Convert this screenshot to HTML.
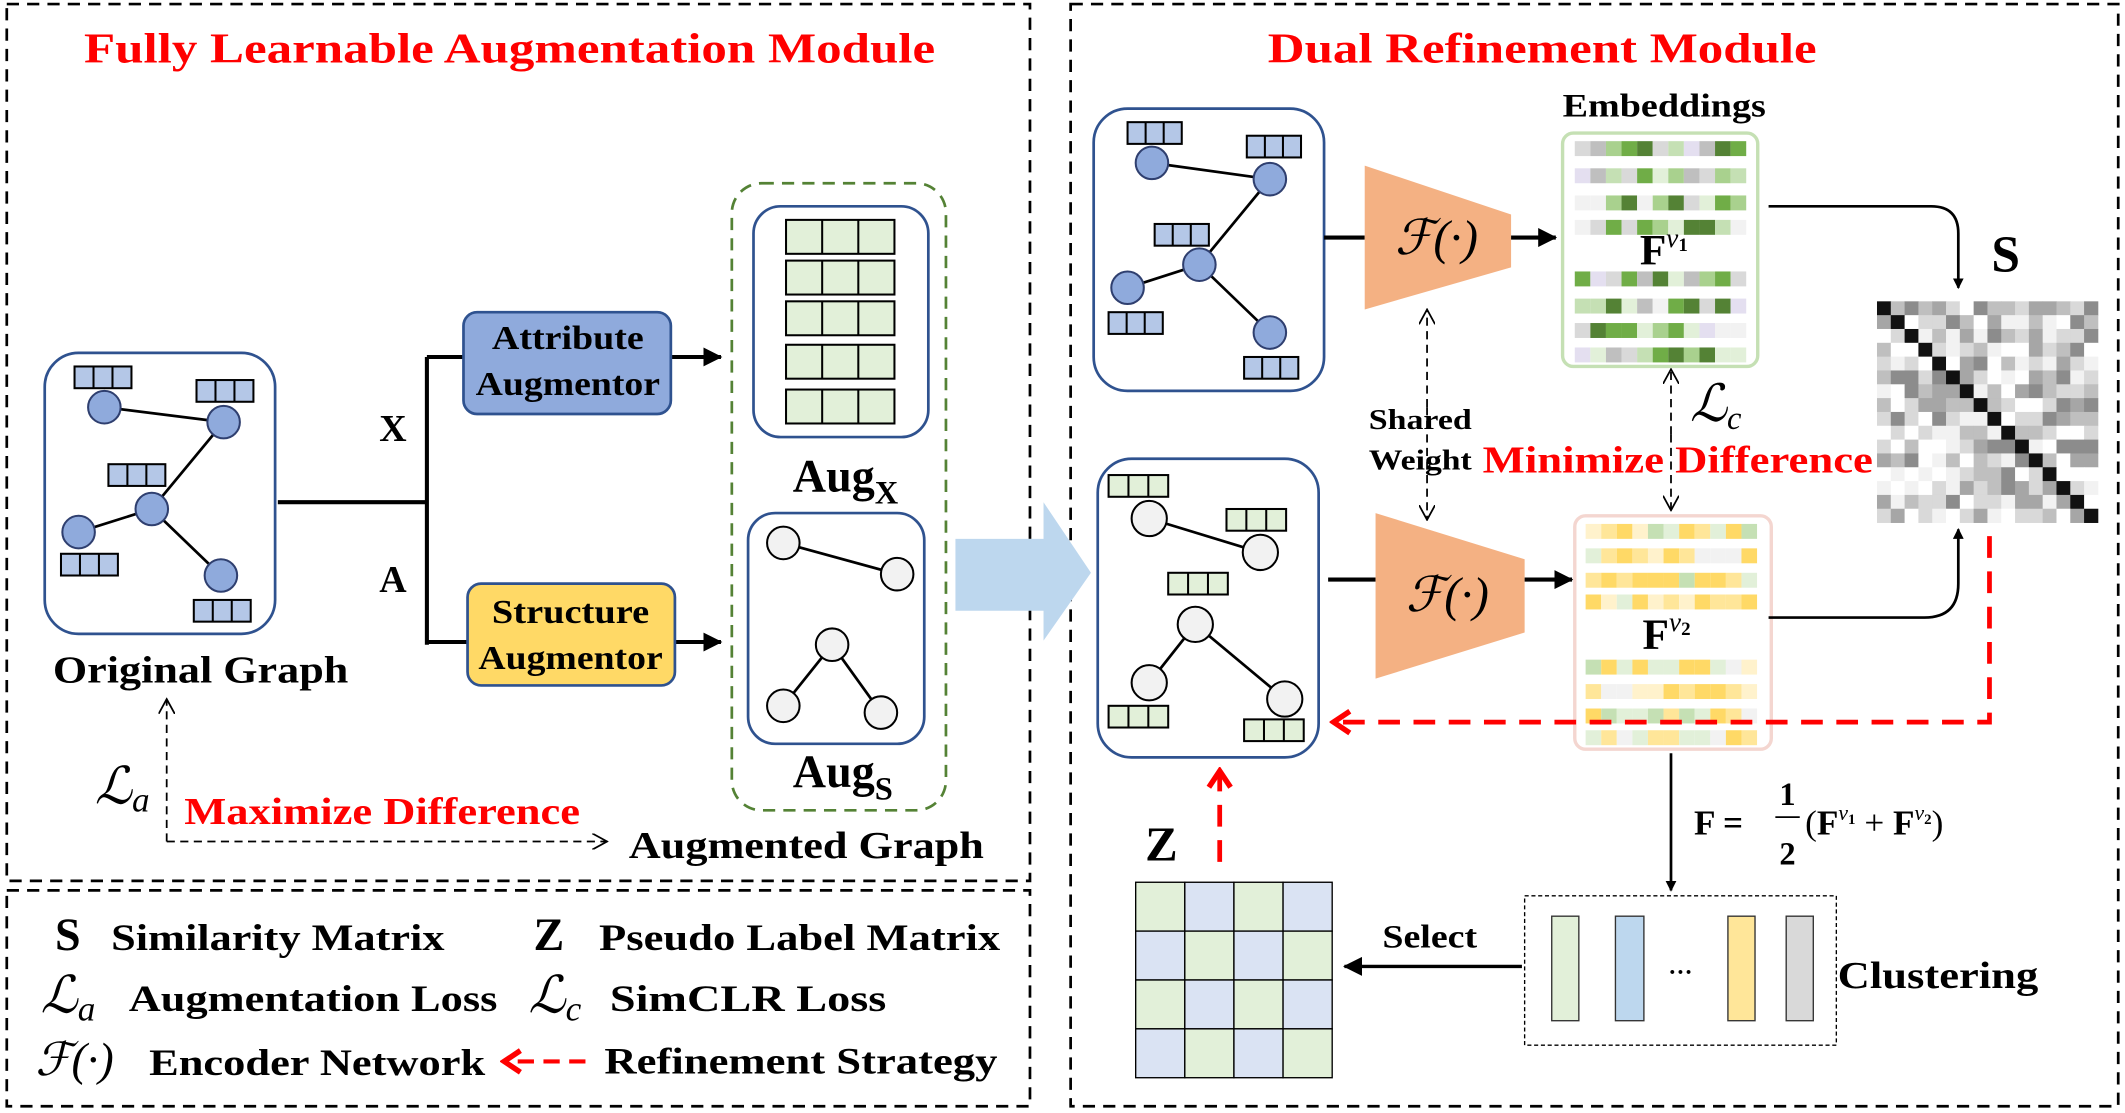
<!DOCTYPE html>
<html><head><meta charset="utf-8"><style>
html,body{margin:0;padding:0;background:#fff;}
svg{display:block;}
text{font-family:"Liberation Serif",serif;font-weight:bold;}
.it{font-style:italic;font-weight:normal;}
</style></head><body>
<svg id="s" width="2125" height="1113" viewBox="0 0 1568 820" preserveAspectRatio="none" xmlns="http://www.w3.org/2000/svg">
<defs>
<marker id="ah" markerWidth="8" markerHeight="8" refX="7" refY="4" orient="auto" markerUnits="userSpaceOnUse"><path d="M0,0 L8,4 L0,8 z" fill="#000"/></marker>
<marker id="ahb" markerWidth="14" markerHeight="14" refX="13" refY="7" orient="auto" markerUnits="userSpaceOnUse"><path d="M0,0 L14,7 L0,14 z" fill="#000"/></marker>
<marker id="ao" markerWidth="12" markerHeight="12" refX="11" refY="6" orient="auto" markerUnits="userSpaceOnUse"><path d="M0,0 L11,6 L0,12" fill="none" stroke="#000" stroke-width="1.3"/></marker>
<marker id="ar" markerWidth="18" markerHeight="20" refX="15" refY="10" orient="auto" markerUnits="userSpaceOnUse"><path d="M3,2 L15,10 L3,18" fill="none" stroke="#f00" stroke-width="4"/></marker>
</defs>
<g fill="none" stroke="#000" stroke-width="2" stroke-dasharray="9,6">
<rect x="5" y="3" width="755" height="646"/>
<rect x="5" y="656" width="755" height="159"/>
<rect x="790" y="3" width="773" height="812"/>
</g>
<text x="376" y="46" font-size="31" fill="#f00" text-anchor="middle" textLength="628" lengthAdjust="spacingAndGlyphs">Fully Learnable Augmentation Module</text>
<text x="1138" y="46" font-size="31" fill="#f00" text-anchor="middle" textLength="405" lengthAdjust="spacingAndGlyphs">Dual Refinement Module</text>

<rect x="33" y="260" width="170" height="207" rx="25" fill="#fff" stroke="#2f528f" stroke-width="2"/>
<g stroke="#000" stroke-width="2"><line x1="77" y1="300" x2="165" y2="311"/><line x1="165" y1="311" x2="112" y2="375"/><line x1="112" y1="375" x2="58" y2="392"/><line x1="112" y1="375" x2="163" y2="424"/></g>
<g fill="#8faadc" stroke="#2f3f6f" stroke-width="1.5"><circle cx="77" cy="300" r="12"/><circle cx="165" cy="311" r="12"/><circle cx="112" cy="375" r="12"/><circle cx="58" cy="392" r="12"/><circle cx="163" cy="424" r="12"/></g>
<g id="og"></g>
<text x="148" y="503" font-size="28" text-anchor="middle" textLength="218" lengthAdjust="spacingAndGlyphs">Original Graph</text>
<g stroke="#000" stroke-width="3" fill="none"><path d="M205,370 H315 M315,263 V475 M315,263 H342 M315,473 H345"/></g>
<line x1="495" y1="263" x2="532" y2="263" stroke="#000" stroke-width="3" marker-end="url(#ahb)"/>
<line x1="498" y1="473" x2="532" y2="473" stroke="#000" stroke-width="3" marker-end="url(#ahb)"/>
<text x="290" y="325" font-size="28" text-anchor="middle">X</text>
<text x="290" y="436" font-size="28" text-anchor="middle">A</text>
<rect x="342" y="230" width="153" height="75" rx="10" fill="#8faadc" stroke="#2f528f" stroke-width="2"/>
<text x="419" y="257" font-size="25" text-anchor="middle" textLength="112" lengthAdjust="spacingAndGlyphs">Attribute</text>
<text x="419" y="291" font-size="25" text-anchor="middle" textLength="136" lengthAdjust="spacingAndGlyphs">Augmentor</text>
<rect x="345" y="430" width="153" height="75" rx="10" fill="#ffd966" stroke="#2f528f" stroke-width="2"/>
<text x="421" y="459" font-size="25" text-anchor="middle" textLength="116" lengthAdjust="spacingAndGlyphs">Structure</text>
<text x="421" y="493" font-size="25" text-anchor="middle" textLength="136" lengthAdjust="spacingAndGlyphs">Augmentor</text>

<rect x="540" y="135" width="158" height="462" rx="22" fill="none" stroke="#548235" stroke-width="2" stroke-dasharray="9,6"/>
<rect x="556" y="152" width="129" height="170" rx="20" fill="#fff" stroke="#2f528f" stroke-width="2"/>
<g id="augx"></g>
<text x="585" y="362" font-size="34">Aug<tspan font-size="24" dy="9">X</tspan></text>
<rect x="552" y="378" width="130" height="170" rx="20" fill="#fff" stroke="#2f528f" stroke-width="2"/>
<g stroke="#000" stroke-width="2"><line x1="578" y1="400" x2="662" y2="423"/><line x1="614" y1="475" x2="578" y2="520"/><line x1="614" y1="475" x2="650" y2="525"/></g>
<g fill="#f2f2f2" stroke="#000" stroke-width="1.5"><circle cx="578" cy="400" r="12"/><circle cx="662" cy="423" r="12"/><circle cx="614" cy="475" r="12"/><circle cx="578" cy="520" r="12"/><circle cx="650" cy="525" r="12"/></g>
<text x="585" y="580" font-size="34">Aug<tspan font-size="24" dy="9">S</tspan></text>
<text x="595" y="632" font-size="28" text-anchor="middle" textLength="262" lengthAdjust="spacingAndGlyphs">Augmented Graph</text>
<text x="70" y="592" font-size="38" class="it">ℒ<tspan font-size="26" dy="6">a</tspan></text>
<line x1="123" y1="620" x2="123" y2="515" stroke="#000" stroke-width="1.3" stroke-dasharray="6,4" marker-end="url(#ao)"/>
<line x1="123" y1="620" x2="448" y2="620" stroke="#000" stroke-width="1.3" stroke-dasharray="6,4" marker-end="url(#ao)"/>
<text x="282" y="607" font-size="28" fill="#f00" text-anchor="middle" textLength="292" lengthAdjust="spacingAndGlyphs">Maximize Difference</text>
<path d="M705,397 H770 V370 L805,422 L770,472 V450 H705 Z" fill="#bdd7ee"/>

<rect x="807" y="80" width="170" height="208" rx="25" fill="#fff" stroke="#2f528f" stroke-width="2"/>
<g stroke="#000" stroke-width="2"><line x1="850" y1="120" x2="937" y2="132"/><line x1="937" y1="132" x2="885" y2="195"/><line x1="885" y1="195" x2="832" y2="212"/><line x1="885" y1="195" x2="937" y2="245"/></g>
<g fill="#8faadc" stroke="#2f3f6f" stroke-width="1.5"><circle cx="850" cy="120" r="12"/><circle cx="937" cy="132" r="12"/><circle cx="885" cy="195" r="12"/><circle cx="832" cy="212" r="12"/><circle cx="937" cy="245" r="12"/></g>
<rect x="810" y="338" width="163" height="220" rx="25" fill="#fff" stroke="#2f528f" stroke-width="2"/>
<g stroke="#000" stroke-width="2"><line x1="848" y1="382" x2="930" y2="407"/><line x1="882" y1="460" x2="848" y2="503"/><line x1="882" y1="460" x2="948" y2="515"/></g>
<g fill="#f2f2f2" stroke="#000" stroke-width="1.5"><circle cx="848" cy="382" r="13"/><circle cx="930" cy="407" r="13"/><circle cx="882" cy="460" r="13"/><circle cx="848" cy="503" r="13"/><circle cx="948" cy="515" r="13"/></g>
<g id="rg"></g>

<line x1="977" y1="175" x2="1007" y2="175" stroke="#000" stroke-width="3"/>
<polygon points="1007,122 1115,158 1115,197 1007,228" fill="#f4b183"/>
<text x="1060" y="187" font-size="36" class="it" text-anchor="middle">ℱ(·)</text>
<line x1="1115" y1="175" x2="1148" y2="175" stroke="#000" stroke-width="3" marker-end="url(#ahb)"/>
<line x1="980" y1="427" x2="1015" y2="427" stroke="#000" stroke-width="3"/>
<polygon points="1015,378 1125,412 1125,466 1015,500" fill="#f4b183"/>
<text x="1068" y="450" font-size="36" class="it" text-anchor="middle">ℱ(·)</text>
<line x1="1125" y1="427" x2="1160" y2="427" stroke="#000" stroke-width="3" marker-end="url(#ahb)"/>

<text x="1228" y="86" font-size="24" text-anchor="middle" textLength="150" lengthAdjust="spacingAndGlyphs">Embeddings</text>
<rect x="1153" y="98" width="144" height="172" rx="8" fill="#fff" stroke="#c5e0b4" stroke-width="2.5"/>
<rect x="1162" y="380" width="145" height="172" rx="8" fill="#fff" stroke="#f4d6d0" stroke-width="2.5"/>
<g id="emb"></g>
<text x="1210" y="195" font-size="32">F<tspan font-size="20" dy="-13" class="it">v</tspan><tspan font-size="14" dy="3">1</tspan></text>
<text x="1212" y="478" font-size="32">F<tspan font-size="20" dy="-13" class="it">v</tspan><tspan font-size="14" dy="3">2</tspan></text>

<path d="M1305,152 H1425 Q1445,152 1445,172 V212" fill="none" stroke="#000" stroke-width="2" marker-end="url(#ah)"/>
<path d="M1305,455 H1420 Q1445,455 1445,430 V390" fill="none" stroke="#000" stroke-width="2" marker-end="url(#ah)"/>
<text x="1480" y="200" font-size="38" text-anchor="middle">S</text>
<g id="sim"></g>

<line x1="1053" y1="300" x2="1053" y2="228" stroke="#000" stroke-width="1.3" stroke-dasharray="6,4" marker-end="url(#ao)"/>
<line x1="1053" y1="300" x2="1053" y2="383" stroke="#000" stroke-width="1.3" stroke-dasharray="6,4" marker-end="url(#ao)"/>
<text x="1048" y="316" font-size="21" text-anchor="middle" textLength="76" lengthAdjust="spacingAndGlyphs">Shared</text>
<text x="1048" y="346" font-size="21" text-anchor="middle" textLength="76" lengthAdjust="spacingAndGlyphs">Weight</text>
<line x1="1233" y1="320" x2="1233" y2="272" stroke="#000" stroke-width="1.3" stroke-dasharray="6,4" marker-end="url(#ao)"/>
<line x1="1233" y1="320" x2="1233" y2="376" stroke="#000" stroke-width="1.3" stroke-dasharray="6,4" marker-end="url(#ao)"/>
<text x="1247" y="310" font-size="38" class="it">ℒ<tspan font-size="24" dy="6">c</tspan></text>
<text x="1238" y="348" font-size="28" fill="#f00" text-anchor="middle" textLength="288" lengthAdjust="spacingAndGlyphs">Minimize Difference</text>

<path d="M1468,395 V532 H984" fill="none" stroke="#f00" stroke-width="3.5" stroke-dasharray="16,10" marker-end="url(#ar)"/>
<line x1="900" y1="635" x2="900" y2="568" stroke="#f00" stroke-width="3.5" stroke-dasharray="16,10" marker-end="url(#ar)"/>
<text x="857" y="634" font-size="36" text-anchor="middle">Z</text>

<line x1="1233" y1="555" x2="1233" y2="656" stroke="#000" stroke-width="2" marker-end="url(#ah)"/>
<text x="1250" y="615" font-size="26">F =</text>
<text x="1319" y="593" font-size="24" text-anchor="middle" font-weight="normal">1</text>
<line x1="1310" y1="602" x2="1328" y2="602" stroke="#000" stroke-width="1.3"/>
<text x="1319" y="637" font-size="24" text-anchor="middle" font-weight="normal">2</text>
<text x="1332" y="615" font-size="26"><tspan font-weight="normal">(</tspan>F<tspan font-size="16" dy="-11" class="it">v</tspan><tspan font-size="11" dy="3">1</tspan><tspan dy="8" font-weight="normal"> + </tspan>F<tspan font-size="16" dy="-11" class="it">v</tspan><tspan font-size="11" dy="3">2</tspan><tspan dy="8" font-weight="normal">)</tspan></text>

<rect x="1125" y="660" width="230" height="110" fill="none" stroke="#000" stroke-width="1" stroke-dasharray="3,2"/>
<g stroke="#333" stroke-width="1"><rect x="1145" y="675" width="20" height="77" fill="#e2f0d9"/><rect x="1192" y="675" width="21" height="77" fill="#bdd7ee"/><rect x="1275" y="675" width="20" height="77" fill="#ffe699"/><rect x="1318" y="675" width="20" height="77" fill="#d9d9d9"/></g>
<text x="1240" y="722" font-size="18" font-weight="normal" text-anchor="middle">···</text>
<text x="1430" y="728" font-size="28" text-anchor="middle" textLength="148" lengthAdjust="spacingAndGlyphs">Clustering</text>
<line x1="1123" y1="712" x2="992" y2="712" stroke="#000" stroke-width="2.5" marker-end="url(#ahb)"/>
<text x="1055" y="698" font-size="24" text-anchor="middle" textLength="70" lengthAdjust="spacingAndGlyphs">Select</text>
<g id="zm"></g>

<text x="50" y="700" font-size="34" text-anchor="middle">S</text>
<text x="82" y="700" font-size="27" textLength="246" lengthAdjust="spacingAndGlyphs">Similarity Matrix</text>
<text x="405" y="700" font-size="34" text-anchor="middle">Z</text>
<text x="442" y="700" font-size="27" textLength="296" lengthAdjust="spacingAndGlyphs">Pseudo Label Matrix</text>
<text x="30" y="746" font-size="38" class="it">ℒ<tspan font-size="26" dy="6">a</tspan></text>
<text x="95" y="745" font-size="27" textLength="272" lengthAdjust="spacingAndGlyphs">Augmentation Loss</text>
<text x="390" y="746" font-size="38" class="it">ℒ<tspan font-size="26" dy="6">c</tspan></text>
<text x="450" y="745" font-size="27" textLength="204" lengthAdjust="spacingAndGlyphs">SimCLR  Loss</text>
<text x="55" y="792" font-size="34" class="it" text-anchor="middle">ℱ(·)</text>
<text x="110" y="792" font-size="27" textLength="248" lengthAdjust="spacingAndGlyphs">Encoder Network</text>
<line x1="432" y1="782" x2="372" y2="782" stroke="#f00" stroke-width="3" stroke-dasharray="12,7" marker-end="url(#ar)"/>
<text x="446" y="791" font-size="27" textLength="290" lengthAdjust="spacingAndGlyphs">Refinement Strategy</text>
</svg>
<script>
var NS="http://www.w3.org/2000/svg";
function R(g,x,y,w,h,f,s,sw){var r=document.createElementNS(NS,"rect");r.setAttribute("x",x);r.setAttribute("y",y);r.setAttribute("width",w);r.setAttribute("height",h);r.setAttribute("fill",f);if(s){r.setAttribute("stroke",s);r.setAttribute("stroke-width",sw||1.5);}g.appendChild(r);}
function tri(g,x,y,w,h,f){R(g,x,y,w,h,f,"#000",1.5);for(var i=1;i<3;i++){var l=document.createElementNS(NS,"line");l.setAttribute("x1",x+w*i/3);l.setAttribute("x2",x+w*i/3);l.setAttribute("y1",y);l.setAttribute("y2",y+h);l.setAttribute("stroke","#000");l.setAttribute("stroke-width",1.5);g.appendChild(l);}}
var og=document.getElementById("og");
[[55,270],[145,280],[80,342],[45,408],[143,442]].forEach(function(p){tri(og,p[0],p[1],42,16,"#b4c7e7");});
var rg=document.getElementById("rg");
[[832,90],[920,100],[852,165],[818,230],[918,263]].forEach(function(p){tri(rg,p[0],p[1],40,16,"#b4c7e7");});
[[818,350],[905,375],[862,422],[818,520],[918,530]].forEach(function(p){tri(rg,p[0],p[1],44,16,"#e2f0d9");});
var ax=document.getElementById("augx");
[162,192,222,254,287].forEach(function(y){tri(ax,580,y,80,25,"#e2f0d9");});
var seed=7;function rnd(){seed=(seed*9301+49297)%233280;return seed/233280;}
var emb=document.getElementById("emb");
var g1=["#c5e0b4","#a9d18e","#70ad47","#548235","#d9d9d9","#bfbfbf","#e2f0d9","#e4dff0","#f2f2f2"];
var g2=["#ffd966","#ffe699","#fff2cc","#e2f0d9","#c5e0b4","#f2f2f2","#ffd966","#ffe699"];
function rows(x0,ys,pal){ys.forEach(function(y){for(var i=0;i<11;i++){R(emb,x0+i*11.5,y,11.5,11,pal[Math.floor(rnd()*pal.length)]);}});}
rows(1162,[104,124,144,162,200,220,238,256],g1);
rows(1170,[386,404,422,438,486,504,522,538],g2);
var sim=document.getElementById("sim");var gs=["#ffffff","#f2f2f2","#d9d9d9","#bfbfbf","#a6a6a6","#8c8c8c"];
var n=16,c=163/n;
for(var i=0;i<n;i++)for(var j=0;j<n;j++){var f=i==j?"#111":gs[Math.floor(rnd()*gs.length)];R(sim,1385+j*c,222+i*c,c+0.3,c+0.3,f);}
var zm=document.getElementById("zm");
for(var i=0;i<4;i++)for(var j=0;j<4;j++){R(zm,838+j*36.25,650+i*36,36.25,36,((i+j)%2==0)?"#e2f0d9":"#dae3f3","#000",1);}
</script>
</body></html>
